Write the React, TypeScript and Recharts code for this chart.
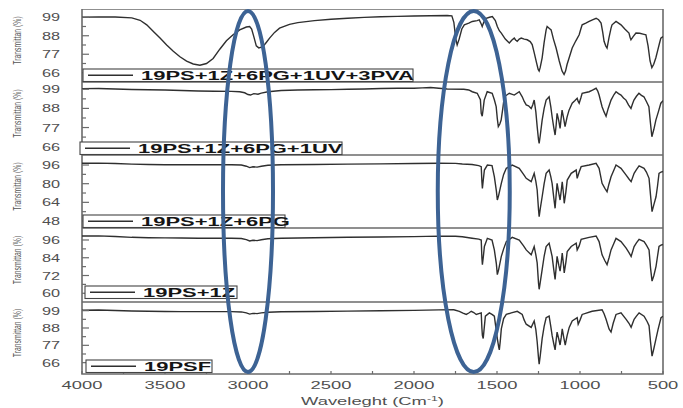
import { LineChart, Line, XAxis, YAxis, ReferenceArea } from 'recharts';

// FTIR transmittance spectra, one panel per blend, wavenumber in cm-1
const specPVA: [number, number][] = [
  [4000, 99], [3900, 99.2], [3800, 99.1], [3700, 98.6], [3650, 97.2], [3610, 94.5], [3570, 90.5],
  [3530, 86.6], [3490, 82.5], [3450, 78.8], [3410, 75.5], [3370, 72.9], [3330, 71.2], [3290, 70.5],
  [3250, 71.5], [3210, 74.5], [3170, 80], [3130, 85], [3090, 88.6], [3050, 91.5], [3010, 93.2],
  [2990, 93.5], [2978, 92], [2965, 87.5], [2950, 82], [2935, 80.8], [2910, 81.5], [2890, 84],
  [2870, 86.6], [2840, 90], [2810, 92.5], [2750, 94.8], [2700, 95.8], [2600, 97], [2500, 97.8],
  [2400, 98.4], [2300, 98.9], [2200, 99.3], [2100, 99.5], [2000, 99.7], [1900, 99.9], [1800, 100],
  [1772, 99.8], [1760, 96], [1748, 86], [1740, 82.5], [1728, 86], [1712, 92], [1697, 94.5],
  [1670, 95.5], [1649, 96.5], [1620, 97], [1607, 97.4], [1595, 95], [1589, 93.5], [1580, 96],
  [1565, 98.4], [1545, 99], [1528, 99.4], [1510, 97], [1498, 93.5], [1486, 91], [1474, 89.6],
  [1450, 86], [1426, 83.7], [1410, 85.5], [1396, 86.6], [1388, 85.5], [1378, 84.7], [1366, 86],
  [1354, 86.6], [1336, 86], [1318, 85.6], [1300, 84.5], [1288, 82.7], [1276, 78], [1262, 72],
  [1252, 68], [1246, 67], [1240, 69], [1228, 74.9], [1216, 84], [1204, 91.5], [1198, 93.5],
  [1186, 92.5], [1174, 91.5], [1160, 86], [1144, 80.7], [1125, 73], [1108, 67], [1096, 65],
  [1087, 67], [1078, 70.9], [1062, 76], [1047, 80.7], [1025, 85], [1005, 88.6], [995, 92],
  [987, 94.5], [965, 95.5], [945, 96.5], [925, 97.5], [903, 98.4], [888, 97.5], [873, 95.5],
  [863, 90], [855, 84.7], [845, 82], [837, 80.7], [825, 87], [813, 92.5], [807, 94.5], [783, 96.5],
  [768, 95.5], [753, 94.5], [730, 92], [705, 89.6], [698, 87], [693, 85.6], [680, 87.5],
  [663, 89.6], [640, 89.5], [620, 89], [603, 88.6], [590, 82], [578, 73], [567, 69], [556, 71],
  [543, 74.9], [530, 80], [520, 84], [513, 86.6], [500, 87.5],
];

const specUV: [number, number][] = [
  [4000, 99.4], [3900, 99.5], [3800, 99.2], [3700, 98.9], [3600, 98.7], [3500, 98.6], [3400, 98.3],
  [3300, 98], [3200, 97.9], [3100, 97.8], [3050, 97.6], [3020, 97], [3000, 96], [2985, 95.7],
  [2965, 96.5], [2940, 96.2], [2920, 96.8], [2880, 97.6], [2800, 98.3], [2700, 98.6], [2600, 98.7],
  [2500, 98.8], [2400, 99], [2300, 99.2], [2200, 99.5], [2100, 99.6], [2000, 99.6], [1950, 99.8],
  [1900, 100], [1850, 99.6], [1800, 99.2], [1700, 99], [1670, 98.6], [1649, 97.6], [1619, 96.7],
  [1600, 93], [1595, 85.2], [1589, 83.5], [1583, 88], [1577, 92.8], [1559, 97.6], [1529, 96.7],
  [1516, 93], [1505, 89], [1498, 82], [1492, 77.5], [1483, 79], [1475, 81.3], [1465, 88],
  [1456, 94.7], [1426, 96.7], [1396, 95.7], [1366, 97.6], [1348, 94.7], [1336, 92], [1324, 90],
  [1310, 89.5], [1294, 88], [1285, 90], [1276, 92.8], [1266, 86], [1258, 77.5], [1250, 70],
  [1246, 67.9], [1240, 72], [1228, 81.3], [1216, 88], [1204, 92.8], [1186, 94.7], [1176, 89],
  [1168, 83.2], [1158, 77], [1150, 72.7], [1144, 78], [1138, 85.2], [1128, 81], [1120, 76.5],
  [1114, 82], [1108, 87], [1098, 82], [1090, 77.5], [1078, 83], [1066, 87], [1047, 91],
  [1030, 92.5], [1017, 93.8], [1011, 92], [1005, 91], [995, 94], [987, 96.7], [945, 97.6],
  [925, 98.5], [903, 99.6], [893, 98], [885, 95.7], [867, 89], [855, 86], [843, 83.5], [830, 88],
  [813, 92.8], [795, 96], [783, 97.6], [768, 96.5], [753, 95.7], [738, 94], [723, 92.8], [708, 90],
  [693, 88], [684, 90.5], [675, 92.8], [660, 95], [645, 96.7], [630, 95.5], [615, 94.7], [600, 92],
  [585, 89], [576, 80], [567, 71.7], [555, 76], [543, 81.3], [528, 86], [513, 91], [500, 92.5],
];

const specPG: [number, number][] = [
  [4000, 97.5], [3900, 97.6], [3800, 97.3], [3700, 96.8], [3600, 96.4], [3500, 96.3], [3400, 96.2],
  [3300, 96.2], [3200, 96.3], [3100, 96.3], [3040, 96], [3010, 95], [2990, 93.8], [2970, 94.5],
  [2945, 94.2], [2920, 95], [2880, 95.8], [2800, 96.2], [2600, 96.5], [2400, 96.8], [2200, 97],
  [2000, 97.3], [1850, 97.5], [1750, 97.4], [1709, 96.9], [1650, 96.5], [1610, 95.5], [1595, 94.6],
  [1591, 82], [1588, 76], [1582, 84], [1576, 91.7], [1558, 96], [1530, 95.5], [1516, 86],
  [1504, 74], [1498, 66], [1490, 70], [1474, 80.3], [1460, 88], [1444, 93.2], [1408, 96],
  [1366, 93.2], [1340, 88], [1324, 84.6], [1294, 81.7], [1276, 88.9], [1266, 82], [1258, 74.6],
  [1250, 58], [1246, 51.7], [1240, 58], [1228, 68.8], [1216, 80], [1204, 88.9], [1186, 91.7],
  [1176, 86], [1168, 80.3], [1158, 68], [1150, 58.9], [1144, 70], [1138, 80.3], [1128, 72],
  [1120, 66], [1113, 74], [1107, 81.7], [1100, 72], [1095, 63.2], [1085, 73], [1077, 83.1],
  [1053, 88.9], [1023, 91.7], [1017, 84.6], [1005, 90], [993, 94.6], [945, 96], [903, 97.5],
  [885, 93.2], [867, 80.3], [850, 76], [837, 73.1], [825, 80], [813, 86], [795, 92], [783, 96],
  [753, 93.2], [722, 87.4], [705, 84], [692, 81.7], [674, 88.9], [660, 92], [644, 95.2],
  [614, 93.2], [600, 90], [584, 84.6], [575, 70], [566, 56], [555, 62], [542, 68.8], [533, 78],
  [524, 88.9], [512, 90], [500, 90.5],
];

const specZ: [number, number][] = [
  [4000, 98.7], [3900, 98.8], [3800, 98.4], [3700, 97.8], [3600, 97.5], [3500, 97.4], [3400, 97.3],
  [3300, 97.2], [3200, 97.2], [3100, 97.2], [3040, 97], [3010, 96.2], [2990, 95.3], [2970, 95.8],
  [2945, 95.6], [2920, 96.2], [2880, 96.8], [2800, 97.2], [2600, 97.5], [2400, 97.8], [2200, 98],
  [2000, 98.3], [1850, 98.6], [1750, 98.5], [1709, 98.2], [1650, 97.2], [1610, 96.6], [1595, 96],
  [1591, 84], [1588, 79.3], [1582, 85], [1576, 91.6], [1558, 97.1], [1530, 96], [1516, 89.3],
  [1504, 80], [1498, 72.6], [1490, 76], [1474, 84.9], [1460, 90], [1444, 94.9], [1408, 97.8],
  [1366, 96], [1340, 92], [1324, 89.3], [1294, 86], [1276, 91.6], [1266, 86], [1258, 80.5],
  [1250, 67], [1246, 62.7], [1240, 67], [1228, 76], [1216, 85], [1204, 91.6], [1186, 93.8],
  [1176, 89], [1168, 84.9], [1158, 76], [1150, 69.3], [1144, 77], [1138, 84.9], [1128, 79],
  [1120, 74.9], [1113, 81], [1107, 87.1], [1100, 80], [1095, 73.8], [1085, 81], [1077, 88.2],
  [1053, 91.6], [1023, 93.8], [1017, 89.3], [1005, 92], [993, 96.4], [945, 97.8], [903, 98.7],
  [885, 94.9], [867, 86], [850, 82], [837, 79.3], [825, 84], [813, 89.3], [795, 94], [783, 97.1],
  [753, 94.9], [722, 90.5], [705, 87.5], [692, 84.9], [674, 91.6], [660, 94], [644, 96.4],
  [614, 94.9], [600, 92.5], [584, 89.3], [575, 77], [566, 68.2], [555, 72], [542, 78.2], [533, 85],
  [524, 91.6], [512, 92.5], [500, 93],
];

const specPSF: [number, number][] = [
  [4000, 99.3], [3900, 99.4], [3800, 99.1], [3700, 98.8], [3600, 98.6], [3500, 98.5], [3400, 98.4],
  [3300, 98.4], [3200, 98.4], [3100, 98.4], [3040, 98.2], [3010, 97.6], [2990, 96.8], [2970, 97.3],
  [2945, 97.1], [2920, 97.6], [2880, 98], [2800, 98.3], [2600, 98.5], [2400, 98.7], [2200, 98.9],
  [2000, 99.2], [1850, 99.5], [1760, 99.6], [1727, 98.6], [1705, 97.5], [1685, 96.6], [1670, 97.5],
  [1655, 98.6], [1640, 97.8], [1625, 96.6], [1605, 97.3], [1595, 97.6], [1591, 88], [1588, 83.3],
  [1583, 81.3], [1578, 87], [1570, 95.5], [1546, 97.6], [1528, 96.5], [1516, 95.5], [1504, 86],
  [1498, 81.3], [1490, 76], [1486, 74.1], [1480, 80], [1474, 87.4], [1460, 94], [1444, 96.6],
  [1414, 97.6], [1378, 98.6], [1348, 96.6], [1336, 93], [1324, 90.4], [1294, 88.4], [1276, 92.5],
  [1266, 87], [1258, 79.3], [1250, 69], [1246, 65], [1240, 70], [1228, 81.3], [1216, 89],
  [1204, 94.5], [1186, 95.5], [1176, 89], [1168, 83.3], [1158, 78], [1150, 74.1], [1144, 80],
  [1138, 85.4], [1128, 81], [1120, 77.2], [1113, 82], [1107, 87.4], [1098, 82], [1089, 77.2],
  [1078, 83], [1065, 88.4], [1047, 92.5], [1017, 94.5], [1011, 90.4], [1000, 93], [987, 96.6],
  [927, 98.6], [867, 99.6], [855, 97], [843, 93.5], [825, 87.4], [813, 85.4], [800, 91],
  [783, 96.6], [753, 97.6], [722, 93.5], [705, 91], [692, 88.4], [674, 93.5], [660, 95.5],
  [644, 97.6], [614, 95.5], [595, 92], [584, 89.4], [575, 79], [566, 70.1], [555, 75], [542, 81.3],
  [530, 87], [512, 94.5], [500, 95.5],
];

const sampleNames = ['19PS+1Z+6PG+1UV+3PVA', '19PS+1Z+6PG+1UV', '19PS+1Z+6PG', '19PS+1Z', '19PSF'];
const spectra = [specPVA, specUV, specPG, specZ, specPSF];
const yTicks = [[99, 88, 77, 66], [99, 88, 77, 66], [96, 80, 64, 48], [96, 84, 72, 60], [99, 88, 77, 66]];
const yDomains: [number, number][] = [[60.5, 103.9], [61.2, 103.2], [42, 104.6], [54.1, 104.1], [58.8, 104.5]];
const xTicks = [4000, 3750, 3500, 3250, 3000, 2750, 2500, 2250, 2000, 1750, 1500, 1250, 1000, 750, 500];
// highlighted bands (C-H stretch and C=C / C=O region)
const bandCentres = [3000, 1640];

// layout
const W = 683;
const H = 408;
const PLOT_LEFT = 82;
const PLOT_RIGHT = 663;
const PANEL_TOPS = [9, 82, 155, 228, 302];
const PLOT_BOTTOM = 374;
const X_AXIS_H = 34;
const AXIS = '#6b6b6b';
const INK = '#2f2f2f';
const FONT = '"Liberation Sans", Arial, sans-serif';

// legend box placement per panel: left, top, right
const legendBoxes = [
  [83, 69, 413],
  [80, 142, 342],
  [83, 215, 285],
  [85, 286, 237],
  [86, 360, 212],
];
const bandWidths = [25, 36];

const wnToX = (wn: number) => PLOT_LEFT + ((4000 - wn) / 3500) * (PLOT_RIGHT - PLOT_LEFT);

function withMinors(majors: number[]) {
  const out: number[] = [];
  majors.forEach((v, i) => {
    out.push(v);
    if (i < majors.length - 1) out.push((v + majors[i + 1]) / 2);
  });
  return out;
}

function YTick(props: any) {
  const { y, payload, majors } = props;
  const major = majors.includes(payload.value);
  return (
    <g>
      <line x1={PLOT_LEFT} x2={PLOT_LEFT + (major ? 7 : 4)} y1={y} y2={y} stroke={AXIS} strokeWidth={1.2} />
      {major && (
        <text
          transform={`translate(60,${y + 4}) scale(1.55,1)`}
          textAnchor="end"
          fontSize={10.5}
          fontFamily={FONT}
          fill="#505050"
        >
          {payload.value}
        </text>
      )}
    </g>
  );
}

function XTick(props: any) {
  const { x, y, payload, showLabel } = props;
  const v = payload.value;
  return (
    <g>
      <line x1={x} x2={x} y1={y} y2={y - 3} stroke={AXIS} strokeWidth={1.2} />
      {showLabel && v % 500 === 0 && (
        <text
          transform={`translate(${x},${y + 15}) scale(1.75,1)`}
          textAnchor="middle"
          fontSize={10.5}
          fontFamily={FONT}
          fill="#505050"
        >
          {v}
        </text>
      )}
    </g>
  );
}

function Panel({ idx }: { idx: number }) {
  const last = idx === spectra.length - 1;
  const top = PANEL_TOPS[idx];
  const bottom = last ? PLOT_BOTTOM : PANEL_TOPS[idx + 1];
  const height = bottom - top + (last ? X_AXIS_H : 0);
  const rows = spectra[idx].map(([wn, t]) => ({ wn, t }));
  const dom = yDomains[idx];
  const majors = yTicks[idx];
  return (
    <div style={{ position: 'absolute', left: 0, top }}>
      <LineChart width={W} height={height} data={rows} margin={{ top: 0, right: W - PLOT_RIGHT, bottom: 0, left: 0 }}>
        <XAxis
          dataKey="wn"
          type="number"
          domain={[500, 4000]}
          reversed
          allowDataOverflow
          ticks={xTicks}
          interval={0}
          tickSize={0}
          tickMargin={0}
          tickLine={false}
          axisLine={false}
          height={last ? X_AXIS_H : 0}
          tick={(p: any) => <XTick {...p} showLabel={last} />}
        />
        <YAxis
          type="number"
          domain={dom}
          allowDataOverflow
          ticks={withMinors(majors)}
          interval={0}
          width={PLOT_LEFT}
          tickLine={false}
          axisLine={false}
          tick={(p: any) => <YTick {...p} majors={majors} />}
        />
        <ReferenceArea
          x1={500}
          x2={4000}
          y1={dom[0]}
          y2={dom[1]}
          fill="none"
          stroke={AXIS}
          strokeWidth={1.6}
          ifOverflow="visible"
        />
        <Line
          type="linear"
          dataKey="t"
          stroke={INK}
          strokeWidth={1.4}
          dot={false}
          isAnimationActive={false}
        />
      </LineChart>
    </div>
  );
}

function Overlay() {
  const cy = (PANEL_TOPS[0] + PLOT_BOTTOM) / 2;
  const ry = (PLOT_BOTTOM - PANEL_TOPS[0]) / 2 - 2;
  return (
    <svg width={W} height={H} style={{ position: 'absolute', left: 0, top: 0, pointerEvents: 'none' }}>
      {PANEL_TOPS.map((t, i) => {
        const b = i < PANEL_TOPS.length - 1 ? PANEL_TOPS[i + 1] : PLOT_BOTTOM;
        const mid = (t + b) / 2 - 5;
        return (
          <text
            key={`yt${i}`}
            transform={`translate(17,${mid}) rotate(-90) scale(0.72,1.1)`}
            textAnchor="middle"
            dominantBaseline="central"
            fontSize={9.5}
            fontFamily={FONT}
            fill="#555"
          >
            Transmittan (%)
          </text>
        );
      })}
      {legendBoxes.map(([l, t, r], i) => {
        const h = 12.5;
        const m = t + h / 2;
        return (
          <g key={`lg${i}`}>
            <rect x={l} y={t} width={r - l} height={h} fill="#fff" stroke="#444" strokeWidth={1.1} />
            <line x1={l + 5} x2={l + 50} y1={m} y2={m} stroke={INK} strokeWidth={1.4} />
            <text
              transform={`translate(${l + 58},${m + 4.3}) scale(1.83,1)`}
              fontSize={12}
              fontWeight="bold"
              fontFamily={FONT}
              fill="#151515"
            >
              {sampleNames[i]}
            </text>
          </g>
        );
      })}
      <text
        transform={`translate(${(PLOT_LEFT + PLOT_RIGHT) / 2},${PLOT_BOTTOM + 31}) scale(1.75,1)`}
        textAnchor="middle"
        fontSize={10.5}
        fontFamily={FONT}
        fill="#505050"
      >
        Waveleght (Cm
        <tspan fontSize={7} dy={-4}>
          -1
        </tspan>
        <tspan dy={4}>)</tspan>
      </text>
      {bandCentres.map((wn, i) => (
        <ellipse
          key={`band${i}`}
          cx={wnToX(wn)}
          cy={cy}
          rx={bandWidths[i]}
          ry={ry}
          fill="none"
          stroke="#3d6394"
          strokeWidth={4}
        />
      ))}
    </svg>
  );
}

export default function App() {
  return (
    <div style={{ position: 'absolute', left: 0, top: 0, width: W, height: H, background: '#fff', fontFamily: FONT }}>
      {spectra.map((_, i) => (
        <Panel key={i} idx={i} />
      ))}
      <Overlay />
    </div>
  );
}
